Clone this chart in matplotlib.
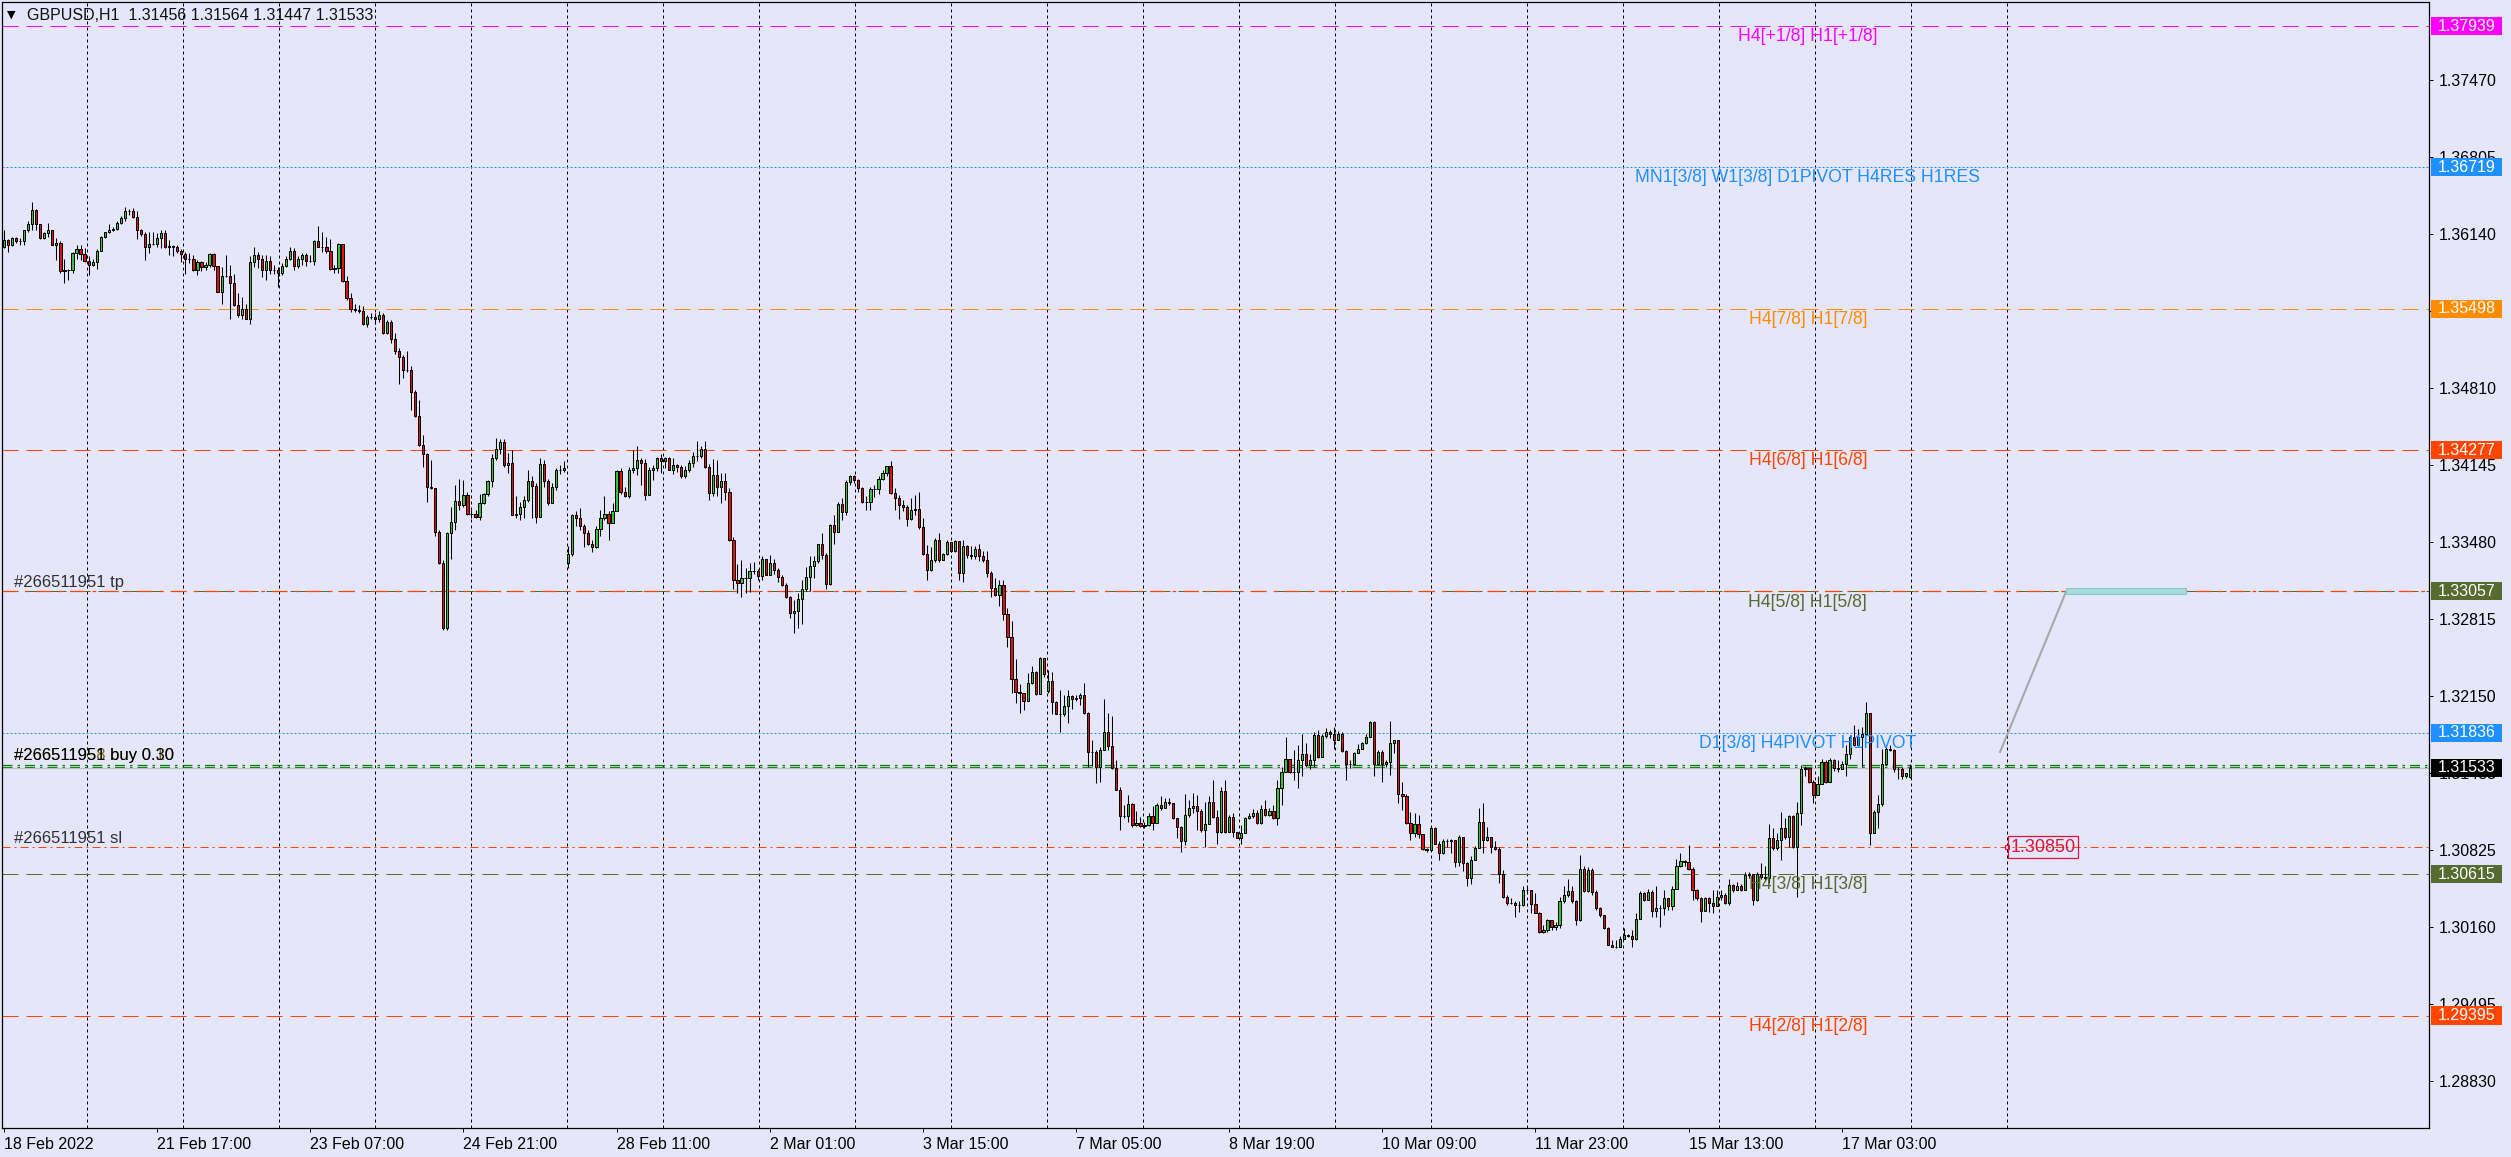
import numpy as np
import matplotlib.pyplot as plt
from matplotlib.patches import Rectangle
from matplotlib.transforms import blended_transform_factory

plt.rcParams['font.family'] = ['Liberation Sans', 'DejaVu Sans']

symbol = 'GBPUSD,H1'
header_ohlc = [1.31456, 1.31564, 1.31447, 1.31533]

# hourly candles, prices in pips (1e-4)
close_pips = [
    13609, 13605, 13611, 13608, 13608, 13618, 13623, 13635, 13623, 13611,
    13615, 13618, 13605, 13607, 13582, 13583, 13583, 13598, 13601, 13597,
    13591, 13588, 13590, 13600, 13612, 13616, 13618, 13619, 13624, 13628,
    13634, 13634, 13629, 13618, 13614, 13603, 13606, 13606, 13611, 13615,
    13603, 13604, 13603, 13600, 13597, 13593, 13593, 13583, 13590, 13586,
    13588, 13597, 13587, 13564, 13578, 13578, 13572, 13553, 13544, 13550,
    13541, 13590, 13596, 13593, 13583, 13591, 13583, 13583, 13581, 13587,
    13593, 13600, 13587, 13593, 13596, 13591, 13591, 13608, 13603, 13603,
    13600, 13584, 13585, 13606, 13574, 13559, 13550, 13549, 13548, 13537,
    13543, 13543, 13541, 13544, 13529, 13538, 13524, 13513, 13508, 13497,
    13497, 13478, 13457, 13432, 13424, 13396, 13395, 13357, 13330, 13274,
    13356, 13366, 13384, 13380, 13389, 13373, 13373, 13370, 13382,
    13390, 13401, 13421, 13429, 13435, 13415, 13417, 13372, 13373, 13379,
    13385, 13401, 13397, 13370, 13416, 13401, 13382, 13396, 13411, 13411,
    13412, 13338, 13372, 13369, 13362, 13356, 13347, 13344, 13360, 13369,
    13373, 13365, 13375, 13410, 13392, 13388, 13411, 13412, 13419, 13417,
    13389, 13411, 13412, 13421, 13418, 13421, 13411, 13415, 13413, 13405,
    13411, 13417, 13423, 13423, 13429, 13413, 13391, 13406, 13396, 13401,
    13392, 13350, 13316, 13313, 13317, 13317, 13323, 13323, 13319, 13334,
    13320, 13330, 13324, 13318, 13311, 13301, 13287, 13289, 13299, 13308,
    13318, 13328, 13332, 13347, 13337, 13312, 13363, 13357, 13381, 13374,
    13400, 13405, 13402, 13395, 13383, 13383, 13394, 13394, 13403, 13408,
    13414, 13391, 13386, 13380, 13379, 13368, 13376, 13377, 13361, 13338,
    13324, 13333, 13350,
    13333, 13338, 13348, 13341, 13349, 13322, 13345, 13337, 13336, 13342,
    13336, 13333, 13322, 13309, 13303, 13311, 13286, 13266, 13230, 13219,
    13218, 13211, 13227, 13236, 13217, 13248, 13234, 13228, 13210, 13200,
    13200, 13207, 13215, 13213, 13214, 13216, 13201, 13167, 13167, 13154,
    13169, 13184, 13172, 13153, 13134, 13112, 13112, 13122, 13104, 13106,
    13103, 13104, 13112, 13106, 13121, 13119, 13124, 13123, 13110, 13102,
    13090, 13113, 13119, 13120, 13116, 13100, 13105, 13124, 13111, 13098,
    13133, 13098, 13111, 13098, 13093, 13097, 13110, 13112, 13114, 13106,
    13118, 13113, 13116, 13110, 13136, 13150, 13161, 13150, 13150, 13160,
    13165, 13156, 13160, 13182, 13163, 13181, 13184, 13183, 13177, 13183,
    13168, 13157, 13157, 13166, 13170, 13175, 13180, 13193, 13157, 13167,
    13157, 13158, 13175, 13177,
    13131, 13129, 13106, 13097, 13105, 13096, 13083, 13082, 13101, 13088,
    13080, 13090, 13090, 13091, 13072, 13094, 13071, 13058, 13074, 13084,
    13107, 13091, 13094, 13085, 13083, 13062, 13042, 13037, 13037, 13035,
    13035, 13048, 13048, 13036, 13028, 13012, 13013, 13022, 13016, 13018,
    13038, 13044, 13047, 13038, 13022, 13066, 13047, 13065, 13046, 13032,
    13026, 13015, 13000, 12999, 12999, 13006, 13009, 13008, 13006, 13023,
    13045, 13039, 13046, 13030, 13032, 13032, 13041, 13034, 13049, 13069,
    13073, 13072, 13066, 13048, 13041, 13030, 13041, 13037, 13034, 13042,
    13044, 13037, 13052, 13048, 13051, 13048, 13061, 13062, 13039, 13062,
    13059, 13058, 13093, 13084, 13091, 13101, 13094, 13112, 13085, 13114,
    13152, 13153, 13141, 13130, 13139, 13158, 13141, 13160, 13153, 13152,
    13157, 13165, 13180, 13173, 13180, 13183, 13201, 13097, 13115, 13122,
    13157, 13170, 13169, 13152, 13152, 13146, 13149, 13153,
]
high_pips = [
    13618, 13610, 13612, 13612, 13611, 13618, 13626, 13642, 13636, 13623,
    13616, 13624, 13618, 13611, 13608, 13593, 13584, 13599, 13605, 13605,
    13602, 13595, 13593, 13601, 13613, 13616, 13623, 13620, 13626, 13630,
    13638, 13636, 13637, 13634, 13619, 13616, 13616, 13616, 13615, 13618,
    13618, 13609, 13605, 13605, 13601, 13599, 13598, 13596, 13592, 13591,
    13590, 13598, 13598, 13587, 13586, 13596, 13588, 13580, 13563, 13560,
    13554, 13595, 13603, 13599, 13596, 13596, 13595, 13588, 13586, 13589,
    13595, 13603, 13602, 13595, 13598, 13598, 13596, 13609, 13621, 13616,
    13612, 13610, 13588, 13607, 13606, 13578, 13563, 13554, 13553, 13552,
    13544, 13546, 13546, 13548, 13546, 13540, 13540, 13529, 13516, 13510,
    13513, 13500, 13480, 13471, 13441, 13425, 13419, 13395, 13359, 13333,
    13357, 13379, 13398, 13403, 13402, 13392, 13376, 13376, 13390,
    13391, 13402, 13424, 13438, 13437, 13437, 13425, 13428, 13388, 13383,
    13388, 13411, 13405, 13399, 13421, 13419, 13403, 13399, 13412, 13415,
    13418, 13345, 13373, 13375, 13378, 13364, 13359, 13350, 13362, 13376,
    13388, 13375, 13382, 13411, 13412, 13396, 13413, 13428, 13431, 13421,
    13420, 13413, 13415, 13422, 13424, 13422, 13422, 13421, 13416, 13415,
    13414, 13419, 13426, 13436, 13431, 13436, 13416, 13420, 13419, 13408,
    13408, 13395, 13353, 13329, 13333, 13326, 13330, 13331, 13325, 13336,
    13334, 13337, 13334, 13326, 13320, 13313, 13302, 13298, 13304, 13316,
    13327, 13336, 13336, 13347, 13356, 13339, 13364, 13372, 13383, 13386,
    13402, 13406, 13406, 13403, 13396, 13388, 13396, 13398, 13405, 13411,
    13414, 13418, 13395, 13389, 13385, 13380, 13386, 13389, 13392, 13369,
    13346, 13344, 13352,
    13356, 13339, 13350, 13348, 13350, 13349, 13350, 13346, 13345, 13345,
    13347, 13341, 13341, 13323, 13317, 13316, 13316, 13291, 13280, 13247,
    13226, 13218, 13235, 13241, 13237, 13249, 13246, 13238, 13236, 13211,
    13221, 13216, 13221, 13216, 13216, 13218, 13227, 13202, 13177, 13169,
    13171, 13213, 13201, 13198, 13160, 13137, 13121, 13130, 13123, 13116,
    13111, 13107, 13114, 13120, 13123, 13129, 13127, 13127, 13123, 13110,
    13103, 13131, 13126, 13132, 13130, 13118, 13124, 13129, 13143, 13117,
    13137, 13143, 13113, 13114, 13098, 13104, 13111, 13114, 13118, 13117,
    13121, 13126, 13119, 13121, 13143, 13154, 13180, 13160, 13169, 13173,
    13183, 13175, 13165, 13184, 13186, 13183, 13188, 13186, 13189, 13185,
    13184, 13169, 13160, 13167, 13174, 13176, 13183, 13194, 13194, 13169,
    13169, 13160, 13194, 13177,
    13177, 13141, 13131, 13115, 13114, 13113, 13096, 13084, 13103, 13102,
    13090, 13092, 13092, 13092, 13085, 13095, 13094, 13072, 13077, 13086,
    13119, 13123, 13102, 13094, 13090, 13085, 13065, 13044, 13041, 13038,
    13038, 13051, 13051, 13048, 13045, 13029, 13018, 13023, 13022, 13020,
    13042, 13051, 13057, 13051, 13039, 13078, 13069, 13068, 13067, 13048,
    13033, 13026, 13016, 13005, 13005, 13008, 13015, 13010, 13013, 13028,
    13047, 13046, 13049, 13048, 13051, 13035, 13048, 13041, 13051, 13075,
    13080, 13074, 13087, 13068, 13049, 13042, 13042, 13042, 13048, 13048,
    13048, 13045, 13057, 13053, 13055, 13053, 13063, 13063, 13058, 13063,
    13071, 13069, 13105, 13101, 13097, 13115, 13110, 13113, 13113, 13124,
    13156, 13155, 13153, 13143, 13146, 13161, 13160, 13162, 13161, 13160,
    13159, 13173, 13182, 13190, 13187, 13189, 13210, 13201, 13117, 13130,
    13170, 13173, 13173, 13170, 13154, 13154, 13149, 13156,
]
low_pips = [
    13602, 13599, 13604, 13607, 13605, 13605, 13616, 13618, 13618, 13610,
    13610, 13612, 13605, 13592, 13581, 13572, 13575, 13581, 13593, 13592,
    13590, 13579, 13587, 13584, 13600, 13611, 13615, 13617, 13618, 13623,
    13626, 13631, 13628, 13610, 13613, 13592, 13598, 13605, 13603, 13602,
    13602, 13596, 13595, 13598, 13590, 13580, 13589, 13582, 13579, 13582,
    13583, 13586, 13583, 13564, 13554, 13577, 13541, 13552, 13543, 13541,
    13541, 13537, 13586, 13585, 13577, 13575, 13580, 13580, 13569, 13579,
    13586, 13592, 13583, 13585, 13588, 13587, 13590, 13588, 13603, 13599,
    13598, 13583, 13581, 13581, 13573, 13557, 13547, 13547, 13546, 13536,
    13534, 13541, 13537, 13538, 13528, 13528, 13520, 13511, 13485, 13490,
    13495, 13462, 13456, 13431, 13413, 13383, 13394, 13354, 13329, 13272,
    13272, 13334, 13359, 13376, 13379, 13372, 13369, 13369, 13367,
    13381, 13388, 13396, 13419, 13424, 13413, 13408, 13372, 13369, 13367,
    13369, 13383, 13369, 13365, 13370, 13396, 13380, 13382, 13393, 13407,
    13409, 13326, 13336, 13362, 13359, 13344, 13346, 13340, 13343, 13354,
    13367, 13350, 13365, 13375, 13390, 13387, 13386, 13408, 13406, 13398,
    13385, 13389, 13402, 13410, 13408, 13412, 13411, 13407, 13409, 13404,
    13404, 13409, 13413, 13418, 13421, 13412, 13385, 13388, 13388, 13382,
    13385, 13349, 13308, 13304, 13301, 13304, 13305, 13321, 13316, 13316,
    13320, 13320, 13321, 13314, 13310, 13300, 13283, 13270, 13274, 13278,
    13306, 13306, 13317, 13330, 13334, 13308, 13311, 13347, 13357, 13367,
    13372, 13398, 13399, 13392, 13382, 13376, 13376, 13387, 13390, 13402,
    13405, 13390, 13376, 13368, 13375, 13362, 13367, 13372, 13360, 13337,
    13316, 13323, 13331,
    13331, 13333, 13337, 13340, 13340, 13316, 13314, 13335, 13334, 13334,
    13332, 13331, 13318, 13301, 13302, 13293, 13281, 13258, 13218, 13209,
    13201, 13203, 13211, 13226, 13216, 13218, 13232, 13218, 13200, 13200,
    13184, 13198, 13192, 13204, 13211, 13208, 13200, 13154, 13155, 13140,
    13141, 13169, 13169, 13152, 13134, 13100, 13110, 13107, 13102, 13103,
    13102, 13101, 13103, 13100, 13106, 13117, 13119, 13121, 13109, 13093,
    13081, 13087, 13111, 13114, 13100, 13098, 13085, 13105, 13110, 13088,
    13097, 13097, 13101, 13094, 13093, 13088, 13097, 13109, 13110, 13105,
    13105, 13112, 13112, 13109, 13104, 13121, 13150, 13149, 13143, 13136,
    13146, 13154, 13152, 13154, 13162, 13163, 13179, 13179, 13170, 13177,
    13167, 13143, 13153, 13157, 13166, 13170, 13174, 13180, 13146, 13156,
    13141, 13154, 13147, 13166,
    13123, 13117, 13105, 13091, 13094, 13093, 13082, 13081, 13082, 13088,
    13074, 13079, 13085, 13080, 13068, 13069, 13064, 13051, 13053, 13074,
    13084, 13080, 13090, 13080, 13082, 13054, 13041, 13035, 13036, 13025,
    13029, 13034, 13045, 13028, 13028, 13011, 13011, 13012, 13013, 13013,
    13015, 13037, 13042, 13037, 13018, 13021, 13046, 13046, 13044, 13031,
    13025, 13014, 13000, 12999, 12998, 13002, 13006, 13007, 12999, 13005,
    13023, 13038, 13039, 13025, 13025, 13016, 13026, 13031, 13031, 13049,
    13068, 13069, 13065, 13039, 13039, 13020, 13030, 13029, 13028, 13034,
    13039, 13036, 13035, 13046, 13048, 13047, 13048, 13058, 13035, 13038,
    13057, 13056, 13054, 13082, 13082, 13074, 13092, 13085, 13084, 13042,
    13104, 13146, 13140, 13123, 13130, 13139, 13140, 13141, 13151, 13150,
    13152, 13146, 13161, 13172, 13172, 13154, 13183, 13087, 13098, 13101,
    13120, 13156, 13168, 13150, 13144, 13144, 13145, 13144,
]
first_open_pips = 13603
gap_open_pips = {140: 13330, 259: 13220}   # weekend gaps

date_labels = ['18 Feb 2022', '21 Feb 17:00', '23 Feb 07:00', '24 Feb 21:00',
               '28 Feb 11:00', '2 Mar 01:00', '3 Mar 15:00', '7 Mar 05:00',
               '8 Mar 19:00', '10 Mar 09:00', '11 Mar 23:00', '15 Mar 13:00',
               '17 Mar 03:00']
bars_per_label = 38

price_ticks = [1.28830, 1.29495, 1.30160, 1.30825, 1.31485, 1.32150, 1.32815,
               1.33480, 1.34145, 1.34810, 1.35475, 1.36140, 1.36805, 1.37470]

# murrey / pivot levels: price, colour, caption, style
level_prices = [1.37939, 1.36719, 1.35498, 1.34277, 1.33057, 1.31836, 1.30615, 1.29395]
level_colors = ['#FF00FF', '#1E90FF', '#FF8C00', '#FF4500', '#556B2F', '#1E90FF', '#556B2F', '#FF4500']
level_names = ['H4[+1/8] H1[+1/8]', 'MN1[3/8] W1[3/8] D1PIVOT H4RES H1RES',
               'H4[7/8] H1[7/8]', 'H4[6/8] H1[6/8]', 'H4[5/8] H1[5/8]',
               'D1[3/8] H4PIVOT H1PIVOT', 'H4[3/8] H1[3/8]', 'H4[2/8] H1[2/8]']
level_dotted = [False, True, False, False, False, True, False, False]

order_id = '#266511951'
order_tp = 1.33057
order_sl = 1.30850
order_opens = [1.31562, 1.31545]
bid = header_ohlc[3]

# ---------------------------------------------------------------
bg = '#E6E6FA'
W, H = 2511, 1157
fig = plt.figure(figsize=(W / 100, H / 100), dpi=100, facecolor=bg)
ax = fig.add_axes([2 / W, (H - 1127.5) / H, 2427 / W, 1125.5 / H], facecolor=bg)

close = np.array(close_pips, float) / 1e4
high = np.array(high_pips, float) / 1e4
low = np.array(low_pips, float) / 1e4
n = len(close)
opn = np.r_[first_open_pips / 1e4, close[:-1]]
for k, v in gap_open_pips.items():
    opn[k] = v / 1e4
opn[-1], high[-1], low[-1], close[-1] = header_ohlc
high = np.maximum(high, np.maximum(opn, close))
low = np.minimum(low, np.minimum(opn, close))

px = 4.03  # pixels per bar
ax.set_xlim(-2 / px, 2425 / px)
ax.set_ylim(1.28428, 1.38147)

# vertical grid
for g in 20.67 + 23.82 * np.arange(21):
    ax.axvline(g, color='black', lw=0.72, dashes=(3, 3), zorder=1)

# levels
for p, c, name, dot in zip(level_prices, level_colors, level_names, level_dotted):
    ax.axhline(p, color=c, lw=0.72, dashes=(2, 2) if dot else (16, 8), zorder=2)
    ax.annotate(name, (447.6, p), xytext=(0, -1.5), textcoords='offset points',
                ha='center', va='top', color=c, fontsize=12.7, zorder=6)

# order lines
ax.axhline(order_tp, color='#FF4500', lw=0.9, dashes=(12, 6, 3, 6), zorder=2)
ax.axhline(order_sl, color='#FF4500', lw=0.72, dashes=(8, 4, 2, 4), zorder=2)
for p in order_opens:
    ax.axhline(p, color='#008000', lw=0.9, dashes=(8, 4, 2, 4), zorder=2)
ax.axhline(bid, color='#C0C0C0', lw=0.9, zorder=2)

tl = blended_transform_factory(ax.transAxes, ax.transData)
ax.annotate(order_id + ' tp', (0.0049, order_tp), xycoords=tl, xytext=(0, 1),
            textcoords='offset points', va='bottom', fontsize=12, color='#303030')
ax.annotate(order_id + ' sl', (0.0049, order_sl), xycoords=tl, xytext=(0, 1),
            textcoords='offset points', va='bottom', fontsize=12, color='#303030')
ax.annotate('#266511958 buy 0.10', (0.0049, order_opens[0]), xycoords=tl, xytext=(0.4, 1.4),
            textcoords='offset points', va='bottom', fontsize=12, color='#7A6A10')
ax.annotate(order_id + ' buy 0.30', (0.0049, order_opens[0]), xycoords=tl, xytext=(0, 1),
            textcoords='offset points', va='bottom', fontsize=12, color='black')

# candles
x = np.arange(n)
up = close >= opn
ax.vlines(x, low, high, color='black', lw=0.75, zorder=3)
ax.bar(x, np.abs(close - opn), bottom=np.minimum(opn, close), width=0.55,
       color=np.where(up, '#33C433', '#E01010'), edgecolor='black', linewidth=0.72, zorder=4)

# trade projection
ax.plot([495.3, 511.7], [1.31671, order_tp], color='#A8A8A8', lw=1.5, zorder=5)
ax.add_patch(Rectangle((511.7, order_tp - 0.00026), 29.7, 0.00052,
                       facecolor='#A6DCDC', edgecolor='#80C8C8', lw=0.7, zorder=5))
ax.plot(497.0, order_sl, marker='s', ms=3, mfc=bg, mec='#DC143C', mew=0.8, zorder=6)
ax.text(497.9, order_sl, '1.30850', color='#DC143C', fontsize=13, va='center', ha='left',
        zorder=6, bbox=dict(boxstyle='square,pad=0.12', fc='none', ec='#DC143C', lw=0.9))

# axes
for s in ax.spines.values():
    s.set_color('black')
    s.set_linewidth(0.9)
ax.yaxis.tick_right()
ax.set_yticks(price_ticks)
ax.set_yticklabels(['%.5f' % t for t in price_ticks])
ax.tick_params(axis='y', direction='out', length=3, width=0.72, pad=4, labelsize=11.5)
ax.set_xticks(np.arange(len(date_labels)) * bars_per_label)
ax.set_xticklabels(date_labels, ha='left')
ax.tick_params(axis='x', direction='out', length=3, width=0.72, pad=3.5, labelsize=11.5)

# price boxes on the right scale
box_prices = level_prices + [bid]
box_colors = level_colors + ['black']
for p, c in zip(box_prices, box_colors):
    ax.add_patch(Rectangle((1.0008, p - 0.00078), 0.0293, 0.00156, transform=tl,
                           facecolor=c, edgecolor='none', clip_on=False, zorder=7))
    ax.text(1.0037, p, '%.5f' % p, transform=tl, color='white', fontsize=11.5,
            va='center', ha='left', clip_on=False, zorder=8)

# header
fig.text(7 / W, 1 - 15 / H, '\u25BC', fontsize=8, va='center', ha='left',
         family='DejaVu Sans')
fig.text(27 / W, 1 - 15 / H, '%s  %.5f %.5f %.5f %.5f' % ((symbol,) + tuple(header_ohlc)),
         fontsize=11.5, va='center', ha='left', color='#101010')

fig.savefig('out.png', dpi=100, facecolor=bg)
